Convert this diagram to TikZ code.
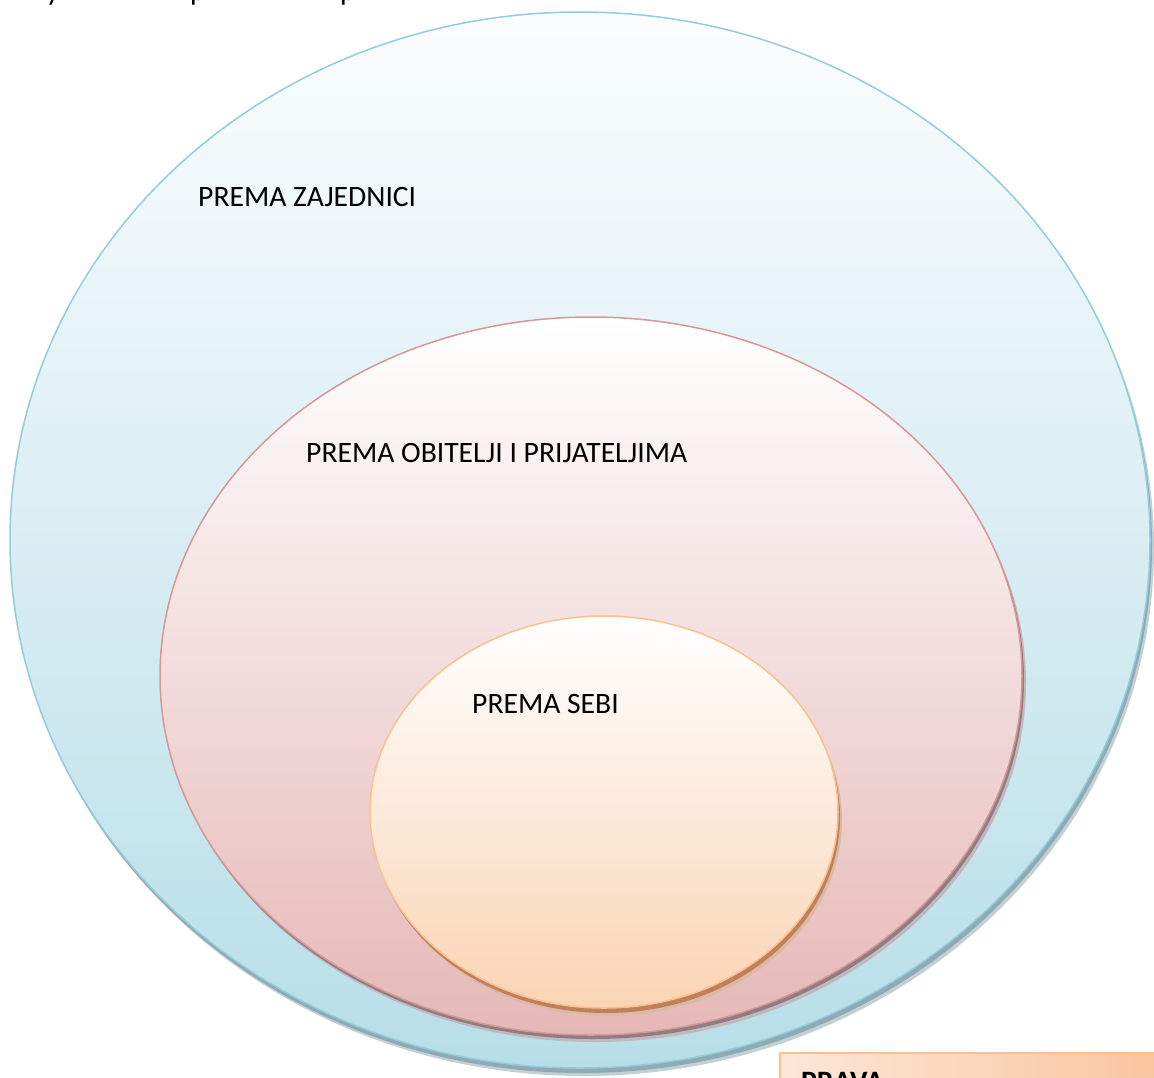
\documentclass[tikz,border=0pt]{standalone}
\usepackage{fontspec}
\setmainfont{Carlito}
\usetikzlibrary{shapes.geometric}
\definecolor{outerline}{RGB}{147,205,221}
\definecolor{outerfill}{RGB}{183,222,232}
\definecolor{outertop}{RGB}{251,253,254}
\definecolor{outershadow}{RGB}{143,170,178}
\definecolor{midline}{RGB}{217,150,148}
\definecolor{midfill}{RGB}{229,184,183}
\definecolor{midshadow}{RGB}{140,126,132}
\definecolor{innline}{RGB}{250,192,143}
\definecolor{innfill}{RGB}{250,212,180}
\definecolor{innshadow}{RGB}{192,128,90}
\definecolor{boxleft}{RGB}{252,231,216}
\definecolor{boxright}{RGB}{249,196,156}
\tikzset{
  ring/.style={ellipse, inner sep=0pt, outer sep=0pt, line width=1.5pt},
  ringshadow/.style={ellipse, inner sep=0pt, outer sep=0pt, draw=none},
  lbl/.style={anchor=base west, inner sep=0pt, font=\fontsize{29.6}{35}\selectfont, text=black},
}
\begin{document}
\begin{tikzpicture}[x=1pt,y=-1pt]
\useasboundingbox (0,0) rectangle (1154,1077);
\clip (0,0) rectangle (1154,1077);
\fill[white] (0,0) rectangle (1154,1077);
% clipped fragments of a text line above
\node[lbl] (fragA) at (46,0) {y};
\node[lbl] (fragB) at (190,0) {p};
\node[lbl] (fragC) at (340,0) {p};
% outer ellipse
\node[ringshadow, fill=outershadow!55, minimum width=1140pt, minimum height=1056pt] (outerS2) at (584,548) {};
\node[ringshadow, fill=outershadow, minimum width=1140pt, minimum height=1056pt] (outerS) at (582,545) {};
\node[ring, draw=outerline, top color=outertop, bottom color=outerfill, minimum width=1140pt, minimum height=1056pt] (outer) at (580,540) {};
% middle ellipse
\node[ringshadow, fill=midshadow!55, minimum width=862pt, minimum height=718pt] (midS2) at (595,683) {};
\node[ringshadow, fill=midshadow, minimum width=862pt, minimum height=718pt] (midS) at (593,680) {};
\node[ring, draw=midline, top color=white, bottom color=midfill, minimum width=862pt, minimum height=718pt] (mid) at (591,676) {};
% inner ellipse
\node[ringshadow, fill=innshadow!55, minimum width=468pt, minimum height=392pt] (innS2) at (608,820) {};
\node[ringshadow, fill=innshadow, minimum width=468pt, minimum height=392pt] (innS) at (606,817) {};
\node[ring, draw=innline, top color=white, bottom color=innfill, minimum width=468pt, minimum height=392pt] (inn) at (604,812) {};
% labels
\node[lbl] (tZaj) at (198,206) {PREMA ZAJEDNICI};
\node[lbl] (tObi) at (306,462) {PREMA OBITELJI I PRIJATELJIMA};
\node[lbl] (tSebi) at (472,713) {PREMA SEBI};
% PRAVA box
\node[draw=innline, line width=2pt, left color=boxleft, right color=boxright, minimum width=400pt, minimum height=60pt, anchor=north west, inner sep=0pt] (prava) at (779,1052) {};
\node[lbl, font=\fontsize{29.6}{35}\selectfont\bfseries] (tPrava) at (801,1091) {PRAVA};
\end{tikzpicture}
\end{document}
